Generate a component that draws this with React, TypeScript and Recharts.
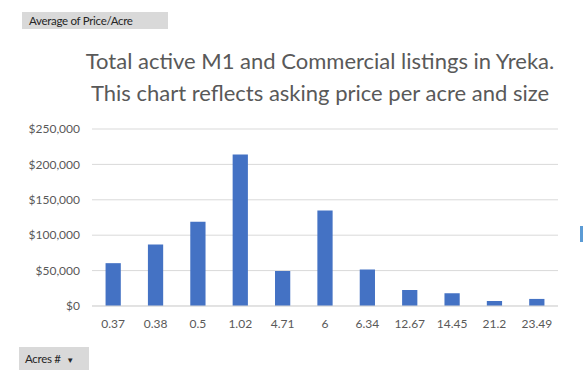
import React from 'react';
import { BarChart, Bar, XAxis, YAxis, CartesianGrid } from 'recharts';

const acres = ['0.37', '0.38', '0.5', '1.02', '4.71', '6', '6.34', '12.67', '14.45', '21.2', '23.49'];
const pricePerAcre = [60500, 87000, 119000, 214000, 49500, 135000, 51500, 22500, 18000, 7000, 10000];
const yTicks = [0, 50000, 100000, 150000, 200000, 250000];

const chartData = acres.map((a, i) => ({ name: a, value: pricePerAcre[i] }));

const GREY = '#595959';
const FONT = 'Lato, "Noto Sans", sans-serif';

const fmtMoney = (v: number) => '$' + v.toLocaleString('en-US');

export default function App() {
  return (
    <div style={{ position: 'absolute', left: 0, top: 0, width: 583, height: 379, background: '#fff', fontFamily: FONT, overflow: 'hidden' }}>
      <div style={{ position: 'absolute', left: 22, top: 12, width: 146, height: 17, background: '#d9d9d9', color: '#262626', fontSize: 11.5, lineHeight: '17px', paddingLeft: 7, boxSizing: 'border-box', letterSpacing: -0.3 }}>
        Average of Price/Acre
      </div>
      <div style={{ position: 'absolute', left: 0, top: 45, width: 640, textAlign: 'center', color: GREY, fontSize: 22, lineHeight: '32px' }}>
        <div>Total active M1 and Commercial listings in Yreka.</div>
        <div>This chart reflects asking price per acre and size</div>
      </div>
      <BarChart width={583} height={379} data={chartData} margin={{ top: 129, right: 25, bottom: 43, left: 0 }} barCategoryGap="68%">
        <CartesianGrid vertical={false} stroke="#d9d9d9" />
        <XAxis dataKey="name" height={30} axisLine={{ stroke: '#d9d9d9' }} tickLine={false} tickSize={0} tickMargin={13}
          tick={{ fill: GREY, fontSize: 12, fontFamily: FONT }} interval={0} />
        <YAxis width={92} ticks={yTicks} domain={[0, 250000]} axisLine={false} tickLine={false} tickSize={0} tickMargin={12}
          tickFormatter={fmtMoney} tick={{ fill: GREY, fontSize: 12, fontFamily: FONT }} />
        <Bar dataKey="value" fill="#4472c4" isAnimationActive={false} />
      </BarChart>
      <div style={{ position: 'absolute', left: 19, top: 347, width: 70, height: 23, background: '#d9d9d9', color: '#262626', fontSize: 11.5, lineHeight: '23px', paddingLeft: 6, boxSizing: 'border-box', letterSpacing: -0.3 }}>
        Acres # <span style={{ fontSize: 8, marginLeft: 3 }}>▼</span>
      </div>
      <div style={{ position: 'absolute', left: 580, top: 226, width: 3, height: 16, background: '#5b9bd5' }} />
    </div>
  );
}
